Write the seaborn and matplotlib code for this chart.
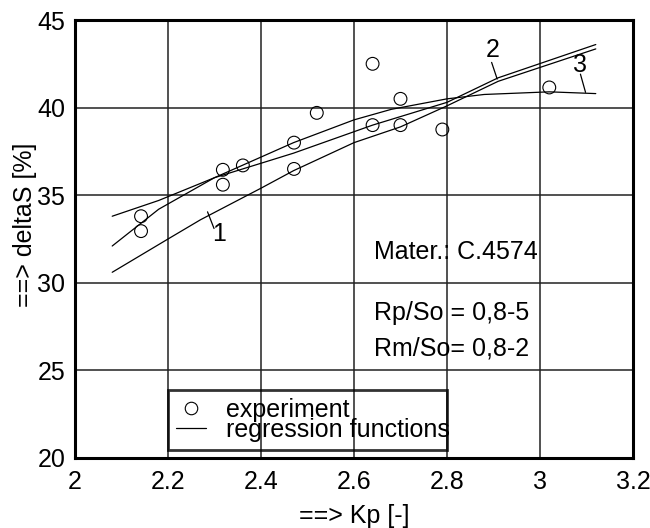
"""Kp vs deltaS: experiment points and three regression curves."""

import matplotlib

matplotlib.use("Agg")
import matplotlib.pyplot as plt
import pandas as pd
import seaborn as sns
from matplotlib.lines import Line2D

# experiment points
kp_exp = [2.142, 2.142, 2.318, 2.318, 2.361, 2.471, 2.471, 2.52, 2.64, 2.64, 2.70, 2.70, 2.79, 3.02]
delta_exp = [33.8, 32.95, 36.45, 35.6, 36.7, 38.0, 36.5, 39.7, 42.5, 39.0, 40.5, 39.0, 38.75, 41.15]

# regression functions 1, 2, 3
kp_reg1 = [2.08, 2.2, 2.27, 2.4, 2.47, 2.6, 2.7, 2.8, 2.91, 3.12]
delta_reg1 = [30.6, 32.5, 33.6, 35.4, 36.4, 38.0, 38.9, 40.1, 41.5, 43.35]
kp_reg2 = [2.08, 2.18, 2.3, 2.47, 2.64, 2.8, 2.91, 3.12]
delta_reg2 = [32.1, 34.2, 36.0, 37.4, 39.0, 40.3, 41.7, 43.6]
kp_reg3 = [2.08, 2.18, 2.3, 2.47, 2.6, 2.68, 2.8, 2.88, 3.02, 3.12]
delta_reg3 = [33.8, 34.7, 36.0, 38.0, 39.3, 39.9, 40.5, 40.75, 40.9, 40.8]

x_ticks = [2, 2.2, 2.4, 2.6, 2.8, 3, 3.2]
x_tick_labels = ["2", "2.2", "2.4", "2.6", "2.8", "3", "3.2"]
y_ticks = [20, 25, 30, 35, 40, 45]

notes = ["Mater.: C.4574", "Rp/So = 0,8-5", "Rm/So= 0,8-2"]
legend_labels = ["experiment", "regression functions"]

sns.set_style("white")
plt.rcParams["font.family"] = ["Liberation Sans", "DejaVu Sans"]
plt.rcParams["font.size"] = 18
plt.rcParams["text.color"] = "black"
plt.rcParams["axes.labelcolor"] = "black"
plt.rcParams["xtick.color"] = "black"
plt.rcParams["ytick.color"] = "black"

points = pd.DataFrame({"kp": kp_exp, "delta": delta_exp})
curves = pd.concat(
    [
        pd.DataFrame({"kp": kp_reg1, "delta": delta_reg1, "curve": "1"}),
        pd.DataFrame({"kp": kp_reg2, "delta": delta_reg2, "curve": "2"}),
        pd.DataFrame({"kp": kp_reg3, "delta": delta_reg3, "curve": "3"}),
    ],
    ignore_index=True,
)

fig = plt.figure(figsize=(6.5, 5.28), dpi=100)
ax = fig.add_axes([0.1154, 0.1326, 0.8584, 0.8295])

sns.lineplot(data=curves, x="kp", y="delta", units="curve", estimator=None, sort=False,
             color="black", linewidth=0.9, legend=False, ax=ax)
sns.scatterplot(data=points, x="kp", y="delta", ax=ax, s=85, facecolor="none",
                edgecolor="black", linewidth=0.8, zorder=3)

ax.set_xlim(2, 3.2)
ax.set_ylim(20, 45)
ax.set_xticks(x_ticks)
ax.set_xticklabels(x_tick_labels)
ax.set_yticks(y_ticks)
ax.grid(True, color="#222222", linewidth=1.1)
ax.tick_params(length=0, labelsize=18)
ax.tick_params(axis="x", pad=9)
ax.tick_params(axis="y", pad=7)
for spine in ax.spines.values():
    spine.set_visible(True)
    spine.set_color("black")
    spine.set_linewidth(2.2)

ax.set_xlabel("==> Kp [-]", fontsize=18)
ax.set_ylabel("==> deltaS [%]", fontsize=18)
ax.xaxis.set_label_coords(0.5, -0.105)
ax.yaxis.set_label_coords(-0.068, 0.532)

# curve numbers with leader lines
ax.plot([2.285, 2.299], [34.05, 33.1], color="black", linewidth=0.9)
ax.text(2.310, 32.77, "1", ha="center", va="center", fontsize=18)
ax.plot([2.896, 2.908], [42.58, 41.63], color="black", linewidth=0.9)
ax.text(2.898, 43.26, "2", ha="center", va="center", fontsize=18)
ax.plot([3.087, 3.098], [41.91, 40.87], color="black", linewidth=0.9)
ax.text(3.086, 42.43, "3", ha="center", va="center", fontsize=18)

note_y = [31.38, 27.86, 25.86]
for text, y in zip(notes, note_y):
    ax.text(2.642, y, text, ha="left", va="baseline", fontsize=18)

handles = [
    Line2D([], [], marker="o", linestyle="none", markerfacecolor="none",
           markeredgecolor="black", markersize=9, markeredgewidth=0.8),
    Line2D([], [], color="black", linewidth=0.9),
]
leg = ax.legend(handles, legend_labels, loc="upper left", mode="expand",
                bbox_to_anchor=(2.2, 20.55, 0.6, 3.31), bbox_transform=ax.transData,
                frameon=True, fancybox=False, edgecolor="black", facecolor="none",
                borderpad=0.3, labelspacing=-0.15, handlelength=1.2, handletextpad=0.8,
                borderaxespad=0, fontsize=18)
leg.get_frame().set_linewidth(2)

fig.savefig("out.png", dpi=100)
plt.close(fig)
